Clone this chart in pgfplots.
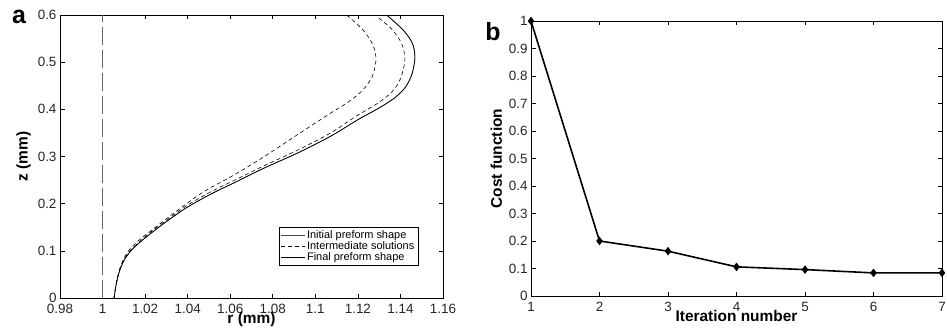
\documentclass[border=0pt]{standalone}
\usepackage{pgfplots}
\pgfplotsset{compat=1.18}
\usepackage{fontspec}
\setmainfont{Liberation Sans}
\begin{document}
\begin{tikzpicture}
\path[use as bounding box] (0bp,0bp) rectangle (947bp,333bp);
\pgfplotsset{
  every axis/.append style={
    scale only axis,
    axis line style={black, line width=0.9bp},
    tick align=inside,
    xtick pos=both, ytick pos=both,
    major tick length=4.5bp,
    every tick/.style={black, line width=0.6bp},
    tick label style={font=\fontsize{13.5}{13.5}\selectfont, text=black!85},
    xticklabel style={yshift=-3bp},
    /pgf/number format/assume math mode=true,
    label style={font=\fontsize{15.5}{15.5}\selectfont\bfseries},
  }
}
% ---------- panel a ----------
\begin{axis}[
  at={(60bp,35bp)}, anchor=south west,
  width=383bp, height=283bp,
  xmin=0.98, xmax=1.16, ymin=0, ymax=0.6,
  xtick={0.98,1,1.02,1.04,1.06,1.08,1.1,1.12,1.14,1.16},
  ytick={0,0.1,0.2,0.3,0.4,0.5,0.6},
  xticklabel style={/pgf/number format/.cd, fixed, precision=2},
  yticklabel style={/pgf/number format/.cd, fixed, precision=1},
  xlabel={r (mm)}, ylabel={z (mm)},
  xlabel style={yshift=9bp},
  ylabel style={yshift=0bp},
  legend style={at={(0.935,0.113)}, anchor=south east, draw=black, line width=0.6bp,
    font=\fontsize{11}{11.5}\selectfont, inner sep=2bp, row sep=-1.5bp, fill=white,
    nodes={inner sep=1.5bp}},
  legend cell align=left,
  legend image code/.code={\draw[#1, line width=0.6bp] (0bp,0bp) -- (24bp,0bp);},
]
\addplot[black!60, line width=0.9bp, dash pattern=on 18bp off 5bp, forget plot] coordinates {(1,0) (1,0.6)};
\addplot[black!70, line width=0.6bp, smooth] coordinates {
(1.0054,0) (1.0059,0.015) (1.0067,0.035) (1.0081,0.059) (1.0104,0.082) (1.0135,0.101) (1.0175,0.118) (1.0227,0.137)
(1.0306,0.164) (1.0400,0.193) (1.0512,0.221) (1.0622,0.245) (1.0757,0.275) (1.0915,0.307)
(1.1072,0.343) (1.1200,0.378) (1.1300,0.403) (1.1375,0.425) (1.1425,0.448) (1.1455,0.476) (1.1468,0.510)
(1.1456,0.540) (1.1413,0.568) (1.1335,0.600)};
\addlegendentry{Initial preform shape}
\addplot[black, line width=0.6bp, dash pattern=on 4bp off 3bp, smooth] coordinates {
(1.0054,0) (1.0059,0.016) (1.0067,0.037) (1.0081,0.062) (1.0104,0.087) (1.0135,0.107) (1.0180,0.126) (1.0235,0.145) (1.0306,0.170)
(1.0464,0.222) (1.0622,0.262) (1.0757,0.299) (1.0915,0.346) (1.1072,0.392) (1.1163,0.418)
(1.1225,0.442) (1.1268,0.470) (1.1285,0.505) (1.1272,0.535) (1.1225,0.568) (1.1147,0.600)};
\addlegendentry{Intermediate solutions}
\addplot[black, line width=0.6bp, dash pattern=on 4bp off 3bp, forget plot, smooth] coordinates {
(1.0054,0) (1.0059,0.015) (1.0067,0.036) (1.0081,0.060) (1.0104,0.084) (1.0135,0.103) (1.0175,0.120) (1.0227,0.140)
(1.0310,0.168) (1.0400,0.197) (1.0512,0.226) (1.0622,0.250) (1.0757,0.280) (1.0915,0.313)
(1.1072,0.350) (1.1190,0.385) (1.1290,0.412) (1.1360,0.437) (1.1400,0.465) (1.1421,0.505)
(1.1405,0.540) (1.1355,0.572) (1.1280,0.600)};
\addplot[black, line width=0.7bp, smooth] coordinates {
(1.0054,0) (1.0059,0.015) (1.0067,0.035) (1.0081,0.059) (1.0104,0.082) (1.0135,0.101) (1.0175,0.118) (1.0227,0.137)
(1.0306,0.164) (1.0400,0.193) (1.0512,0.221) (1.0622,0.245) (1.0757,0.275) (1.0915,0.307)
(1.1072,0.343) (1.1200,0.378) (1.1300,0.403) (1.1375,0.425) (1.1425,0.448) (1.1455,0.476) (1.1468,0.510)
(1.1456,0.540) (1.1413,0.568) (1.1335,0.600)};
\addlegendentry{Final preform shape}
\end{axis}
\node[font=\fontsize{25}{25}\selectfont\bfseries, anchor=center] at (19bp,316bp) {a};
% ---------- panel b ----------
\begin{axis}[
  at={(531bp,37bp)}, anchor=south west,
  width=411bp, height=275bp,
  xmin=1, xmax=7, ymin=0, ymax=1,
  xtick={1,2,3,4,5,6,7},
  ytick={0,0.1,0.2,0.3,0.4,0.5,0.6,0.7,0.8,0.9,1},
  yticklabel style={/pgf/number format/.cd, fixed, precision=1},
  xlabel={Iteration number}, ylabel={Cost function},
  xlabel style={yshift=9bp},
  ylabel style={yshift=0bp},
  clip=false,
]
\addplot[black, line width=1.6bp, mark=diamond*, mark size=3bp, mark options={solid, fill=black}] coordinates {
(1,1) (2,0.200) (3,0.163) (4,0.106) (5,0.096) (6,0.084) (7,0.084)};
\end{axis}
\node[font=\fontsize{25}{25}\selectfont\bfseries, anchor=center] at (493bp,301bp) {b};
\end{tikzpicture}
\end{document}
